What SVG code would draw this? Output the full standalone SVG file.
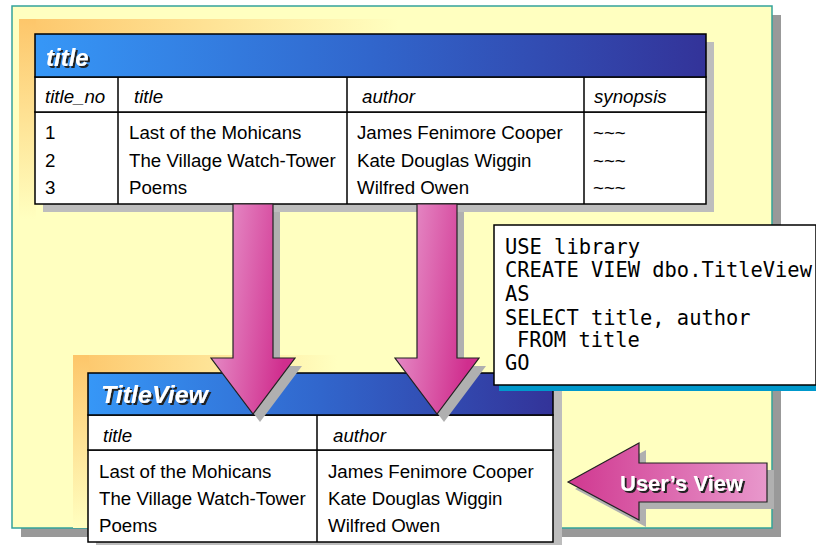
<svg xmlns="http://www.w3.org/2000/svg" width="816" height="545" viewBox="0 0 816 545">
<defs>
<linearGradient id="hdr" x1="0" y1="0" x2="1" y2="0"><stop offset="0" stop-color="#3697F7"/><stop offset="0.5" stop-color="#3166CC"/><stop offset="1" stop-color="#333399"/></linearGradient>
<linearGradient id="glowH" x1="0" y1="0" x2="1" y2="0"><stop offset="0" stop-color="#FDC66A"/><stop offset="0.55" stop-color="#FFFFC0"/><stop offset="1" stop-color="#FFFFC0" stop-opacity="0"/></linearGradient>
<linearGradient id="glowV" x1="0" y1="0" x2="0" y2="1"><stop offset="0" stop-color="#FDC66A"/><stop offset="1" stop-color="#FFFFC0"/></linearGradient>
<linearGradient id="pinkDown" x1="0" y1="0" x2="1" y2="0.3"><stop offset="0" stop-color="#EAA0D2"/><stop offset="1" stop-color="#D02E8E"/></linearGradient>
<linearGradient id="pinkLeft" x1="0" y1="0" x2="1" y2="0"><stop offset="0" stop-color="#D03890"/><stop offset="1" stop-color="#E898CC"/></linearGradient>
<filter id="tshadow" x="-10%" y="-20%" width="130%" height="150%">
<feOffset in="SourceAlpha" dx="2" dy="2" result="o"/>
<feFlood flood-color="#222"/>
<feComposite in2="o" operator="in" result="s"/>
<feMerge><feMergeNode in="s"/><feMergeNode in="SourceGraphic"/></feMerge>
</filter>
</defs>
<style>
.txt{font-family:"Liberation Sans",Arial,sans-serif;font-size:18.7px;fill:#000}
.it{font-style:italic}
.hd{font-family:"Liberation Sans",Arial,sans-serif;font-size:24px;font-weight:bold;font-style:italic;fill:#fff;filter:url(#tshadow)}
.box{fill:#fff;stroke:#000;stroke-width:1.5}
.hbox{fill:url(#hdr);stroke:#000;stroke-width:1.5}
.ln{stroke:#000;stroke-width:1.5}
.shd{fill:#BDBDBD}
.mono{font-family:"DejaVu Sans Mono",monospace;font-size:20.4px;fill:#000}
.arr{stroke:#222;stroke-width:1.2}
.ashd{fill:#B0B0B0}
.uv{font-family:"Liberation Sans",Arial,sans-serif;font-size:22px;font-weight:bold;fill:#fff;filter:url(#tshadow)}
</style>
<g id="panel">
<rect x="21" y="15" width="760" height="522" fill="#999"/>
<rect x="12" y="6" width="760" height="522" fill="#FFFFC0" stroke="#33A39A" stroke-width="1.5"/>
<rect x="19" y="19" width="690" height="18" fill="url(#glowH)"/>
<rect x="19" y="19" width="17" height="200" fill="url(#glowV)"/>
<rect x="73" y="355" width="480" height="20" fill="url(#glowH)"/>
<rect x="73" y="355" width="16" height="173" fill="url(#glowV)"/>
</g>
<g id="title-table">
<rect class="shd" x="43" y="42" width="671" height="170"/>
<rect class="box" x="35" y="112" width="671" height="92"/>
<rect class="box" x="35" y="77" width="671" height="35"/>
<rect class="hbox" x="35" y="34" width="671" height="43"/>
<line class="ln" x1="118" y1="77" x2="118" y2="204"/>
<line class="ln" x1="347" y1="77" x2="347" y2="204"/>
<line class="ln" x1="584" y1="77" x2="584" y2="204"/>
<text class="hd" x="46" y="66">title</text>
<text class="txt it" x="45" y="103">title_no</text>
<text class="txt it" x="134" y="103">title</text>
<text class="txt it" x="362" y="103">author</text>
<text class="txt it" x="594" y="103">synopsis</text>
<text class="txt" x="45" y="139">1</text>
<text class="txt" x="45" y="167">2</text>
<text class="txt" x="45" y="194">3</text>
<text class="txt" x="129" y="139">Last of the Mohicans</text>
<text class="txt" x="129" y="167">The Village Watch-Tower</text>
<text class="txt" x="129" y="194">Poems</text>
<text class="txt" x="357" y="139">James Fenimore Cooper</text>
<text class="txt" x="357" y="167">Kate Douglas Wiggin</text>
<text class="txt" x="357" y="194">Wilfred Owen</text>
<text class="txt" x="593" y="139">~~~</text>
<text class="txt" x="593" y="167">~~~</text>
<text class="txt" x="593" y="194">~~~</text>
</g>
<g id="titleview-table">
<rect class="shd" x="96" y="381" width="466" height="170"/>
<rect class="box" x="88" y="450" width="465" height="92"/>
<rect class="box" x="88" y="415" width="465" height="35"/>
<rect class="hbox" x="88" y="373" width="465" height="42"/>
<line class="ln" x1="317" y1="415" x2="317" y2="542"/>
<text class="hd" x="101" y="403" textLength="107" lengthAdjust="spacingAndGlyphs">TitleView</text>
<text class="txt it" x="103" y="442">title</text>
<text class="txt it" x="333" y="442">author</text>
<text class="txt" x="99" y="478">Last of the Mohicans</text>
<text class="txt" x="99" y="505">The Village Watch-Tower</text>
<text class="txt" x="99" y="532">Poems</text>
<text class="txt" x="328" y="478">James Fenimore Cooper</text>
<text class="txt" x="328" y="505">Kate Douglas Wiggin</text>
<text class="txt" x="328" y="532">Wilfred Owen</text>
</g>
<g id="connectors">
<polygon class="ashd" points="240,212 280,212 280,366 302,366 260,422 218,366 240,366"/>
<polygon class="arr" fill="url(#pinkDown)" points="233,204 273,204 273,358 295,358 253,414 211,358 233,358"/>
<polygon class="ashd" points="424,212 464,212 464,366 486,366 444,422 402,366 424,366"/>
<polygon class="arr" fill="url(#pinkDown)" points="417,204 457,204 457,358 479,358 437,414 395,358 417,358"/>
</g>
<g id="sql-box">
<rect x="499" y="230" width="321" height="161" fill="#0099CC"/>
<rect x="494" y="225" width="322" height="160" fill="#fff" stroke="#000" stroke-width="1.5"/>
<text class="mono" x="505" y="254">USE library</text>
<text class="mono" x="505" y="277">CREATE VIEW dbo.TitleView</text>
<text class="mono" x="505" y="301">AS</text>
<text class="mono" x="505" y="325">SELECT title, author</text>
<text class="mono" x="517" y="347">FROM title</text>
<text class="mono" x="505" y="370">GO</text>
</g>
<g id="users-view">
<polygon class="ashd" points="575,489 646,450 646,470 774,470 774,509 646,509 646,527"/>
<polygon class="arr" fill="url(#pinkLeft)" points="568,482 639,443 639,463 767,463 767,502 639,502 639,520"/>
<text class="uv" x="620" y="491">User’s View</text>
</g>
</svg>
